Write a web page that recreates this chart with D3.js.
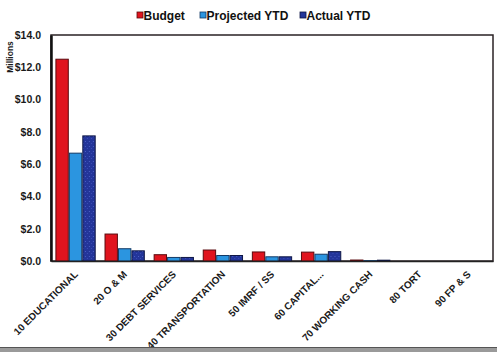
<!DOCTYPE html>
<html>
<head>
<meta charset="utf-8">
<script src="https://cdn.jsdelivr.net/npm/d3@7"></script>
<style>
  html, body { margin: 0; padding: 0; background: #fff; }
  svg { display: block; font-family: "Liberation Sans", Arial, sans-serif; }
</style>
</head>
<body>
<svg id="chart" width="497" height="352"></svg>
<script>
// Fund categories (x axis)
const categories = [
  "10 EDUCATIONAL", "20 O & M", "30 DEBT SERVICES", "40 TRANSPORTATION",
  "50 IMRF / SS", "60 CAPITAL...", "70 WORKING CASH", "80 TORT", "90 FP & S"
];
// Series names
const seriesNames = ["Budget", "Projected YTD", "Actual YTD"];
// Values in millions of dollars
const budget    = [12.5, 1.67, 0.39, 0.68, 0.56, 0.55, 0.06, 0.0, 0.0];
const projected = [6.68, 0.76, 0.22, 0.34, 0.26, 0.42, 0.02, 0.0, 0.0];
const actual    = [7.75, 0.63, 0.22, 0.34, 0.26, 0.58, 0.05, 0.0, 0.0];
// Y axis ticks
const yTicks = [0, 2, 4, 6, 8, 10, 12, 14];

const colors = ["#e0141e", "#2b95e0", "#23359a"];
const strokes = ["#5a0a0e", "#123a66", "#0e1645"];

const svg = d3.select("#chart");
const W = 497, H = 352;
const m = { left: 51, right: 4, top: 35, bottom: 91 };

const x = d3.scaleBand()
  .domain(categories)
  .range([m.left, W - m.right])
  .paddingInner(0.2)
  .paddingOuter(0.1);

const xs = d3.scaleBand()
  .domain(seriesNames)
  .range([0, x.bandwidth()])
  .paddingInner(0.08);

const y = d3.scaleLinear()
  .domain([0, 14])
  .range([H - m.bottom, m.top]);

// texture for the Actual YTD bars
const defs = svg.append("defs");
const pat = defs.append("pattern")
  .attr("id", "speckle").attr("patternUnits", "userSpaceOnUse")
  .attr("width", 4).attr("height", 5);
pat.append("rect").attr("width", 4).attr("height", 5).attr("fill", colors[2]);
pat.append("rect").attr("x", 1).attr("y", 1).attr("width", 1).attr("height", 1).attr("fill", "#4a5fc4");
pat.append("rect").attr("x", 3).attr("y", 3).attr("width", 1).attr("height", 1).attr("fill", "#3a4db5");

// plot frame
svg.append("rect")
  .attr("x", m.left).attr("y", m.top)
  .attr("width", W - m.right - m.left)
  .attr("height", H - m.bottom - m.top)
  .attr("fill", "none")
  .attr("stroke", "#2a2225")
  .attr("stroke-width", 1.5);

// bars
const data = categories.map((c, i) => ({ c, vals: [budget[i], projected[i], actual[i]] }));
const groups = svg.append("g").selectAll("g")
  .data(data).join("g")
  .attr("transform", d => `translate(${x(d.c)},0)`);

groups.selectAll("rect")
  .data(d => d.vals.map((v, k) => ({ v, k })))
  .join("rect")
  .attr("x", d => xs(seriesNames[d.k]))
  .attr("width", xs.bandwidth())
  .attr("y", d => y(d.v))
  .attr("height", d => y(0) - y(d.v))
  .attr("fill", d => d.k === 2 ? "url(#speckle)" : colors[d.k])
  .attr("stroke", d => d.v > 0 ? strokes[d.k] : "none")
  .attr("stroke-width", 1);

// y axis
const yAxis = d3.axisLeft(y)
  .tickValues(yTicks)
  .tickSize(0)
  .tickPadding(10)
  .tickFormat(d => "$" + d.toFixed(1));

const gy = svg.append("g")
  .attr("transform", `translate(${m.left},0)`)
  .call(yAxis);
gy.select(".domain").attr("stroke", "#111").attr("stroke-width", 2.5);
gy.selectAll("text")
  .attr("font-size", 10.5).attr("font-weight", "bold").attr("fill", "#1a1a1a")
  .attr("font-family", "Liberation Sans, Arial, sans-serif");

// x axis
const xAxis = d3.axisBottom(x).tickSize(0).tickPadding(0);
const gx = svg.append("g")
  .attr("transform", `translate(0,${H - m.bottom})`)
  .call(xAxis);
gx.select(".domain").attr("stroke", "#222").attr("stroke-width", 1.5);
gx.selectAll("text")
  .attr("font-size", 10).attr("font-weight", "bold").attr("fill", "#1a1a1a")
  .attr("font-family", "Liberation Sans, Arial, sans-serif")
  .attr("text-anchor", "end")
  .attr("dy", 0)
  .attr("transform", "translate(3,14) rotate(-45)");

// axis title
svg.append("text")
  .attr("transform", "translate(13,57) rotate(-90)")
  .attr("text-anchor", "middle")
  .attr("font-size", 8.5).attr("font-weight", "bold").attr("fill", "#1a1a1a")
  .text("Millions");

// legend
const legendX = [137, 200, 300];
const lg = svg.append("g").selectAll("g")
  .data(seriesNames).join("g")
  .attr("transform", (d, i) => `translate(${legendX[i]},12)`);
lg.append("rect")
  .attr("width", 6).attr("height", 6)
  .attr("fill", (d, i) => colors[i])
  .attr("stroke", (d, i) => strokes[i]).attr("stroke-width", 0.8);
lg.append("text")
  .attr("x", 6.5).attr("y", 7.5)
  .attr("font-size", 12).attr("font-weight", "bold").attr("fill", "#111")
  .text(d => d);

// bottom page edge
svg.append("rect").attr("x", 0).attr("y", 347).attr("width", W).attr("height", 5).attr("fill", "#9a9a9a");
svg.append("line").attr("x1", 0).attr("x2", W).attr("y1", 347.5).attr("y2", 347.5).attr("stroke", "#555").attr("stroke-width", 1);
</script>
</body>
</html>
